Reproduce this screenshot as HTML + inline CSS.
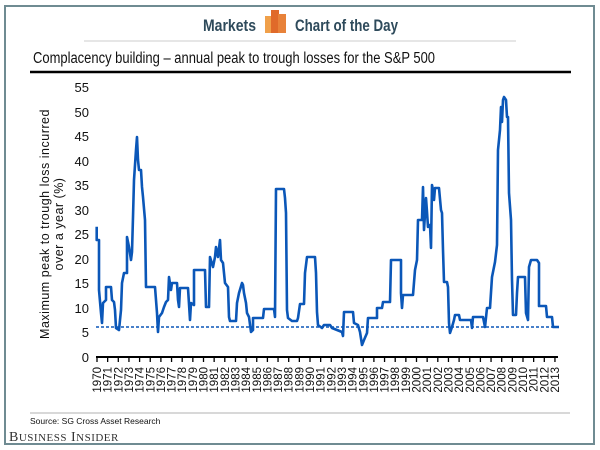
<!DOCTYPE html>
<html><head><meta charset="utf-8"><style>
html,body{margin:0;padding:0;background:#fff;width:600px;height:450px;overflow:hidden}
svg{display:block;font-family:"Liberation Sans",Arial,sans-serif}
</style></head><body>
<svg width="600" height="450" viewBox="0 0 600 450" xmlns="http://www.w3.org/2000/svg">
<rect x="5" y="6" width="589" height="438" fill="#fff" stroke="#6f8b92" stroke-width="2"/>
<text x="203" y="31" font-size="17" font-weight="bold" fill="#2e4a5b" textLength="53" lengthAdjust="spacingAndGlyphs">Markets</text>
<rect x="265" y="16" width="7" height="17" fill="#f0a04a"/>
<rect x="271" y="10" width="8" height="23" fill="#e06a2a"/>
<rect x="278" y="14" width="8" height="19" fill="#e8823a"/>
<text x="295" y="31" font-size="17" font-weight="bold" fill="#2e4a5b" textLength="103" lengthAdjust="spacingAndGlyphs">Chart of the Day</text>
<line x1="84" y1="41" x2="516" y2="41" stroke="#ccc" stroke-width="1"/>
<text x="33" y="63" font-size="15.5" fill="#111" textLength="402" lengthAdjust="spacingAndGlyphs">Complacency building – annual peak to trough losses for the S&amp;P 500</text>
<line x1="30" y1="72" x2="571" y2="72" stroke="#000" stroke-width="2.5"/>
<g font-size="13" fill="#111" text-anchor="end">
<text x="89" y="362">0</text><text x="89" y="337">5</text><text x="89" y="313">10</text><text x="89" y="288">15</text><text x="89" y="264">20</text><text x="89" y="239">25</text><text x="89" y="215">30</text><text x="89" y="190">35</text><text x="89" y="166">40</text><text x="89" y="141">45</text><text x="89" y="117">50</text><text x="89" y="92">55</text>
</g>
<g font-size="12.5" fill="#111" text-anchor="middle" letter-spacing="0.5">
<text transform="translate(49,224) rotate(-90)">Maximum peak to trough loss incurred</text>
<text transform="translate(63,224) rotate(-90)">over a year (%)</text>
</g>
<line x1="96" y1="357" x2="558" y2="357" stroke="#000" stroke-width="2"/>
<g id="ticks" stroke="#000" stroke-width="1.3"></g>
<g id="xl" font-size="11.5" fill="#111" text-anchor="end"></g>
<line x1="96" y1="327" x2="559" y2="327" stroke="#0b57b8" stroke-width="1.5" stroke-dasharray="3,2"/>
<polyline fill="none" stroke="#0b57b8" stroke-width="2.6" stroke-linejoin="round" points="96.7,226.7 96.7,240 99,240 99,290 101,313 102,323 103,303 106,300 106,287 111,287 112,300 114,302 115,310 116,328 119,330 121,310 122,283 124,273 127,273 127,237 129,247 131,260 132,252 133,217 134,180 136,150 137,137 138,160 139,170 141,170 142,187 143,197 145,220 146,287 155,287 157,313 158,332 159,317 162,313 164,307 166,302 168,300 169,277 171,290 172,283 177,283 178,300 179,307 180,288 188,288 190,320 191,303 194,305 194,270 205,270 206,307 209,307 210,257 213,267 215,257 216,247 218,257 220,240 221,260 223,263 225,283 228,287 229,317 230,321 236,321 237,303 239,293 242,283 243,285 244,293 246,303 247,313 249,317 251,332 253,330 253,318 263,318 264,309 274,309 275,317 276,189 284,189 285,198 286,213 287,310 288,318 292,321 297,321 298,318 300,304 304,304 305,273 307,257 315,257 316,273 317,312 318,325 322,328 324,325 330,325 332,328 337,330 342,332 343,336 344,312 353,312 354,323 358,325 360,332 362,345 364,340 367,333 368,318 377,318 377,308 382,308 383,302 390,302 391,260 401,260 401,293 402,308 403,295 413,295 415,270 417,260 418,220 422,220 423,187 424,230 426,198 427,212 428,227 430,225 431,248 432,185 433,190 434,200 435,188 439,188 441,210 442,213 443,250 444,282 447,282 448,287 449,323 450,333 452,327 454,320 455,315 459,315 460,320 471,320 472,328 473,317 483,317 485,327 487,308 490,308 492,277 495,262 497,245 498,150 500,130 501,107 502,122 503,100 504,97 506,100 507,117 508,117 509,193 511,220 512,280 513,315 516,315 517,293 518,277 525,277 526,313 528,320 529,267 531,260 537,260 539,263 539,306 546,306 547,317 552,317 553,327 559,327"/>
<line x1="30" y1="413" x2="570" y2="413" stroke="#ccc" stroke-width="1.5"/>
<text x="30" y="424" font-size="8.5" fill="#111">Source: SG Cross Asset Research</text>
<text x="9" y="441" font-size="14" fill="#333" font-family="Liberation Serif,serif" letter-spacing="0.5">B<tspan font-size="11">USINESS</tspan> I<tspan font-size="11">NSIDER</tspan></text>
</svg>
<script>
var t=document.getElementById('ticks'),l=document.getElementById('xl'),ns='http://www.w3.org/2000/svg';
for(var i=0;i<=43;i++){var x=97+i*10.65;
var ln=document.createElementNS(ns,'line');ln.setAttribute('x1',x);ln.setAttribute('x2',x);ln.setAttribute('y1',357);ln.setAttribute('y2',362);t.appendChild(ln);
var tx=document.createElementNS(ns,'text');tx.setAttribute('transform','translate('+(x+4)+',367) rotate(-90)');tx.textContent=1970+i;l.appendChild(tx);}
</script>
</body></html>
